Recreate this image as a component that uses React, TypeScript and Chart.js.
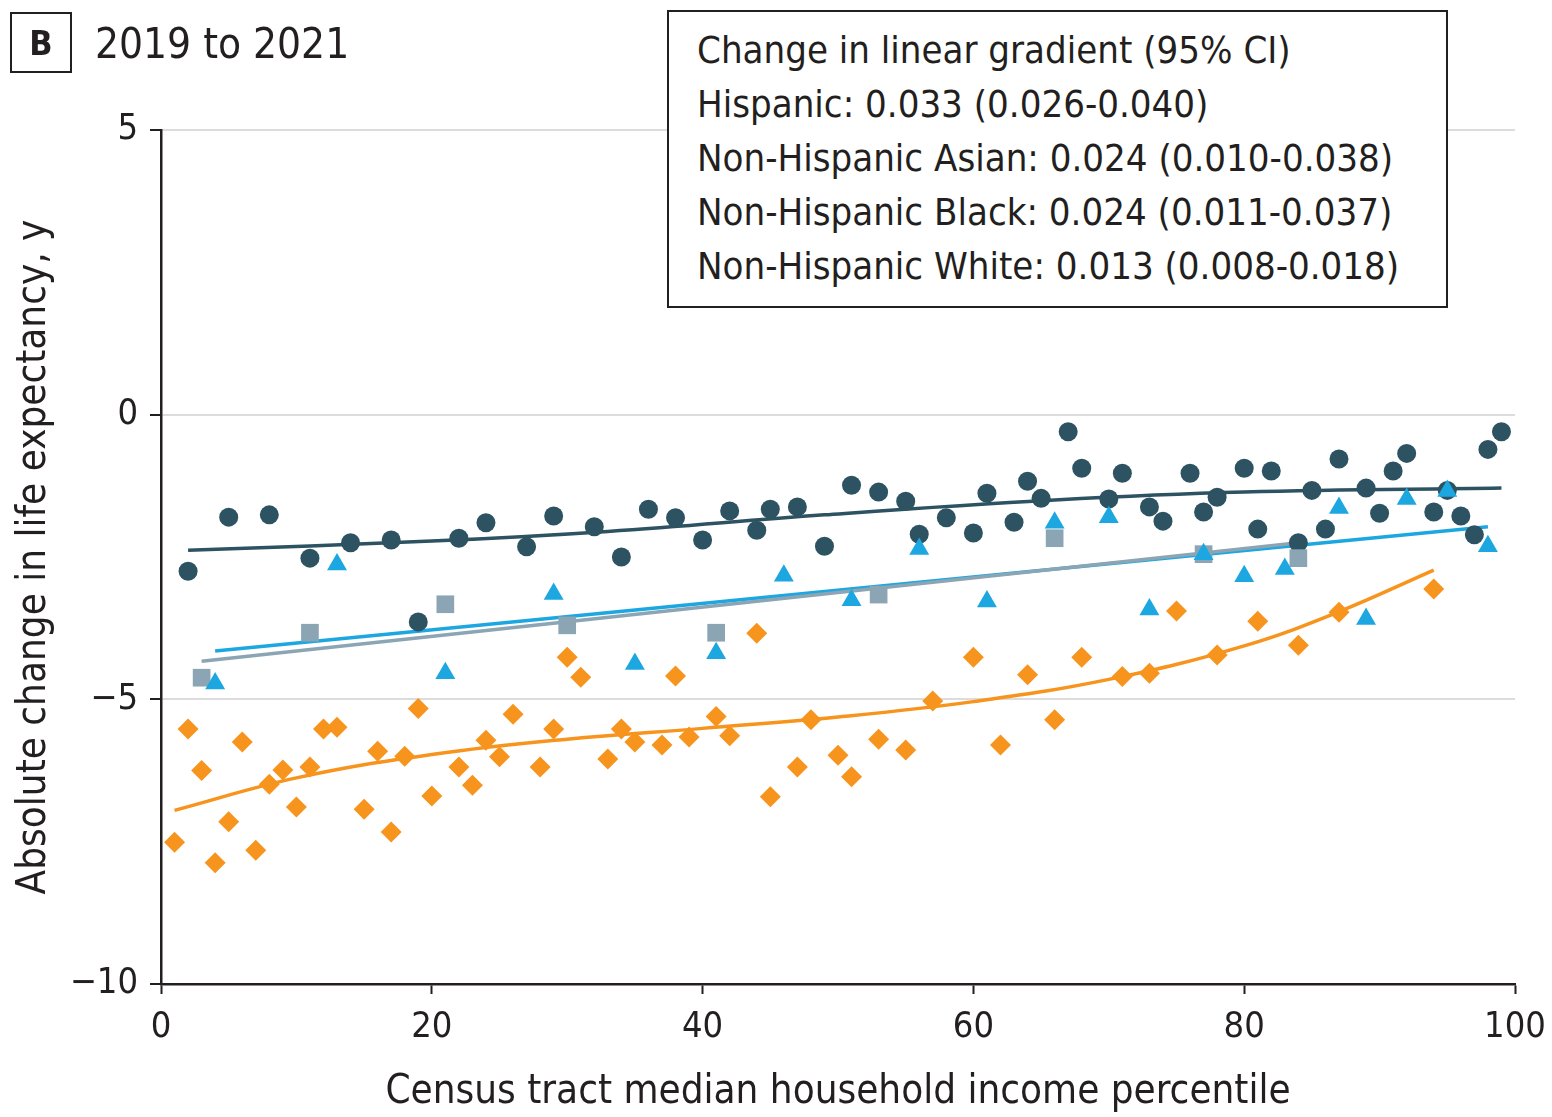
import React, { useEffect, useRef } from "react";
import { Chart, registerables } from "chart.js";

Chart.register(...registerables);

const FONT = "'DejaVu Sans Condensed', 'Liberation Sans Narrow', 'DejaVu Sans', sans-serif";
const INK = "#231f20";

// Census tract median household income percentile (x) and absolute change in life expectancy, y (y)
const whitePct = [2, 5, 8, 11, 14, 17, 19, 22, 24, 27, 29, 32, 34, 36, 38, 40, 42, 44, 45, 47, 49, 51, 53, 55, 56, 58, 60, 61, 63, 64, 65, 67, 68, 70, 71, 73, 74, 76, 77, 78, 80, 81, 82, 84, 85, 86, 87, 89, 90, 91, 92, 94, 95, 96, 97, 98, 99];
const whiteChange = [-2.75, -1.8, -1.76, -2.52, -2.25, -2.2, -3.64, -2.17, -1.9, -2.32, -1.78, -1.97, -2.5, -1.66, -1.81, -2.2, -1.69, -2.03, -1.66, -1.62, -2.31, -1.24, -1.36, -1.52, -2.1, -1.81, -2.08, -1.38, -1.89, -1.17, -1.47, -0.3, -0.94, -1.48, -1.03, -1.62, -1.87, -1.03, -1.71, -1.45, -0.94, -2.01, -0.99, -2.25, -1.33, -2.01, -0.78, -1.29, -1.73, -0.99, -0.68, -1.71, -1.33, -1.78, -2.11, -0.61, -0.3];

const hispanicPct = [1, 2, 3, 4, 5, 6, 7, 8, 9, 10, 11, 12, 13, 15, 16, 17, 18, 19, 20, 22, 23, 24, 25, 26, 28, 29, 30, 31, 33, 34, 35, 37, 38, 39, 41, 42, 44, 45, 47, 48, 50, 51, 53, 55, 57, 60, 62, 64, 66, 68, 71, 73, 75, 78, 81, 84, 87, 94];
const hispanicChange = [-7.51, -5.52, -6.25, -7.87, -7.15, -5.75, -7.65, -6.49, -6.24, -6.89, -6.19, -5.52, -5.49, -6.93, -5.91, -7.33, -6.0, -5.16, -6.7, -6.19, -6.51, -5.72, -6.01, -5.26, -6.19, -5.52, -4.26, -4.61, -6.05, -5.52, -5.75, -5.8, -4.59, -5.66, -5.3, -5.64, -3.84, -6.71, -6.19, -5.36, -5.98, -6.36, -5.7, -5.89, -5.03, -4.26, -5.8, -4.57, -5.36, -4.26, -4.6, -4.54, -3.45, -4.22, -3.63, -4.05, -3.47, -3.06];

const asianPct = [4, 13, 21, 29, 35, 41, 46, 51, 56, 61, 66, 70, 73, 77, 80, 83, 87, 89, 92, 95, 98];
const asianChange = [-4.72, -2.63, -4.54, -3.15, -4.38, -4.19, -2.83, -3.26, -2.36, -3.28, -1.9, -1.8, -3.42, -2.45, -2.84, -2.71, -1.64, -3.59, -1.48, -1.34, -2.31];

const blackPct = [3, 11, 21, 30, 41, 53, 66, 77, 84];
const blackChange = [-4.62, -3.83, -3.33, -3.7, -3.83, -3.16, -2.17, -2.45, -2.52];

// Fitted gradients
const whiteFitPct = [2, 20, 33, 49, 66, 80, 99];
const whiteFit = [-2.38, -2.22, -2.05, -1.76, -1.5, -1.36, -1.29];
const hispanicFitPct = [1, 10, 20, 30, 40, 50, 60, 70, 80, 87, 94];
const hispanicFit = [-6.95, -6.38, -5.97, -5.7, -5.51, -5.31, -5.04, -4.65, -4.06, -3.46, -2.73];
const asianFitPct = [4, 98];
const asianFit = [-4.15, -1.97];
const blackFitPct = [3, 84];
const blackFit = [-4.33, -2.25];

const xTicks = [0, 20, 40, 60, 80, 100];
const yTicks = [5, 0, -5, -10];

const gradientLines = [
  "Change in linear gradient (95% CI)",
  "Hispanic: 0.033 (0.026-0.040)",
  "Non-Hispanic Asian: 0.024 (0.010-0.038)",
  "Non-Hispanic Black: 0.024 (0.011-0.037)",
  "Non-Hispanic White: 0.013 (0.008-0.018)",
];

const COLORS = {
  white: "#2d5262",
  hispanic: "#f7941d",
  asian: "#1ca7e1",
  black: "#8ba5b4",
};

const pts = (xs: number[], ys: number[]) => xs.map((x, i) => ({ x, y: ys[i] }));

// Keep the plot box fixed: ignore label-overflow padding added by the scales
const noOverflow = (scale: any) => {
  scale.paddingLeft = 0;
  scale.paddingRight = 0;
  scale.paddingTop = 0;
  scale.paddingBottom = 0;
};

export default function App() {
  const canvasRef = useRef<HTMLCanvasElement>(null);

  useEffect(() => {
    const fitLine = (xs: number[], ys: number[], color: string, curved: boolean) => ({
      type: "line" as const,
      data: pts(xs, ys),
      showLine: true,
      borderColor: color,
      borderWidth: 3.5,
      pointRadius: 0,
      fill: false,
      tension: curved ? 0.4 : 0,
      order: 10,
    });

    const chart = new Chart(canvasRef.current!, {
      type: "scatter",
      data: {
        datasets: [
          fitLine(whiteFitPct, whiteFit, COLORS.white, true),
          fitLine(hispanicFitPct, hispanicFit, COLORS.hispanic, true),
          fitLine(blackFitPct, blackFit, COLORS.black, false),
          fitLine(asianFitPct, asianFit, COLORS.asian, false),
          {
            data: pts(whitePct, whiteChange),
            pointStyle: "circle",
            pointRadius: 9.5,
            backgroundColor: COLORS.white,
            borderWidth: 0,
            order: 5,
          },
          {
            data: pts(blackPct, blackChange),
            pointStyle: "rect",
            pointRadius: 12.5,
            backgroundColor: COLORS.black,
            borderWidth: 0,
            order: 4,
          },
          {
            data: pts(asianPct, asianChange),
            pointStyle: "triangle",
            pointRadius: 11.5,
            backgroundColor: COLORS.asian,
            borderWidth: 0,
            order: 3,
          },
          {
            data: pts(hispanicPct, hispanicChange),
            pointStyle: "rectRot",
            pointRadius: 10.5,
            backgroundColor: COLORS.hispanic,
            borderWidth: 0,
            order: 2,
          },
        ],
      },
      options: {
        responsive: false,
        animation: false,
        devicePixelRatio: 1,
        layout: { padding: { top: 130, right: 37, bottom: 0, left: 0 } },
        plugins: { legend: { display: false }, tooltip: { enabled: false } },
        scales: {
          x: {
            type: "linear",
            min: 0,
            max: 100,
            afterBuildTicks: (scale: any) => {
              scale.ticks = xTicks.map((value) => ({ value }));
            },
            afterFit: (scale: any) => {
              scale.height = 133;
              noOverflow(scale);
            },
            grid: {
              drawOnChartArea: false,
              drawTicks: true,
              tickLength: 10,
              tickColor: INK,
              tickWidth: 2,
            },
            border: { color: INK, width: 2.5 },
            ticks: {
              padding: 12,
              color: INK,
              font: { family: FONT, size: 36 },
              maxRotation: 0,
            },
            title: {
              display: true,
              text: "Census tract median household income percentile",
              color: INK,
              font: { family: FONT, size: 40 },
              padding: { top: 0, bottom: 0 },
            },
          },
          y: {
            type: "linear",
            min: -10,
            max: 5,
            afterBuildTicks: (scale: any) => {
              scale.ticks = yTicks.map((value) => ({ value }));
            },
            afterFit: (scale: any) => {
              scale.width = 161;
              noOverflow(scale);
            },
            grid: {
              drawOnChartArea: true,
              color: "#dcdcdc",
              lineWidth: 2,
              drawTicks: true,
              tickLength: 11,
              tickColor: INK,
              tickWidth: 2,
            },
            border: { color: INK, width: 2.5 },
            ticks: {
              padding: 12,
              color: INK,
              font: { family: FONT, size: 36 },
              callback: (v: any) => (Number(v) < 0 ? "\u2212" + Math.abs(Number(v)) : String(v)),
            },
            title: {
              display: true,
              text: "Absolute change in life expectancy, y",
              color: INK,
              font: { family: FONT, size: 40 },
              padding: { top: 11, bottom: 0 },
            },
          },
        },
      },
    } as any);

    return () => chart.destroy();
  }, []);

  return (
    <div style={{ position: "absolute", left: 0, top: 0, width: 1552, height: 1117, background: "#fff", fontFamily: FONT, color: INK }}>
      <canvas ref={canvasRef} width={1552} height={1117} style={{ display: "block", width: 1552, height: 1117 }} />
      <div
        style={{
          position: "absolute",
          left: 10,
          top: 12,
          width: 62,
          height: 61,
          boxSizing: "border-box",
          border: `2px solid ${INK}`,
          display: "flex",
          alignItems: "center",
          justifyContent: "center",
          fontSize: 34,
          fontWeight: "bold",
        }}
      >
        B
      </div>
      <div style={{ position: "absolute", left: 95, top: 19, fontSize: 42, lineHeight: "50px", whiteSpace: "nowrap" }}>2019 to 2021</div>
      <div
        style={{
          position: "absolute",
          left: 667,
          top: 10,
          width: 781,
          height: 298,
          boxSizing: "border-box",
          border: `2px solid ${INK}`,
          background: "#fff",
          paddingLeft: 28,
          paddingTop: 11,
          fontSize: 38,
          lineHeight: "54px",
          whiteSpace: "nowrap",
        }}
      >
        {gradientLines.map((t) => (
          <div key={t}>{t}</div>
        ))}
      </div>
    </div>
  );
}
